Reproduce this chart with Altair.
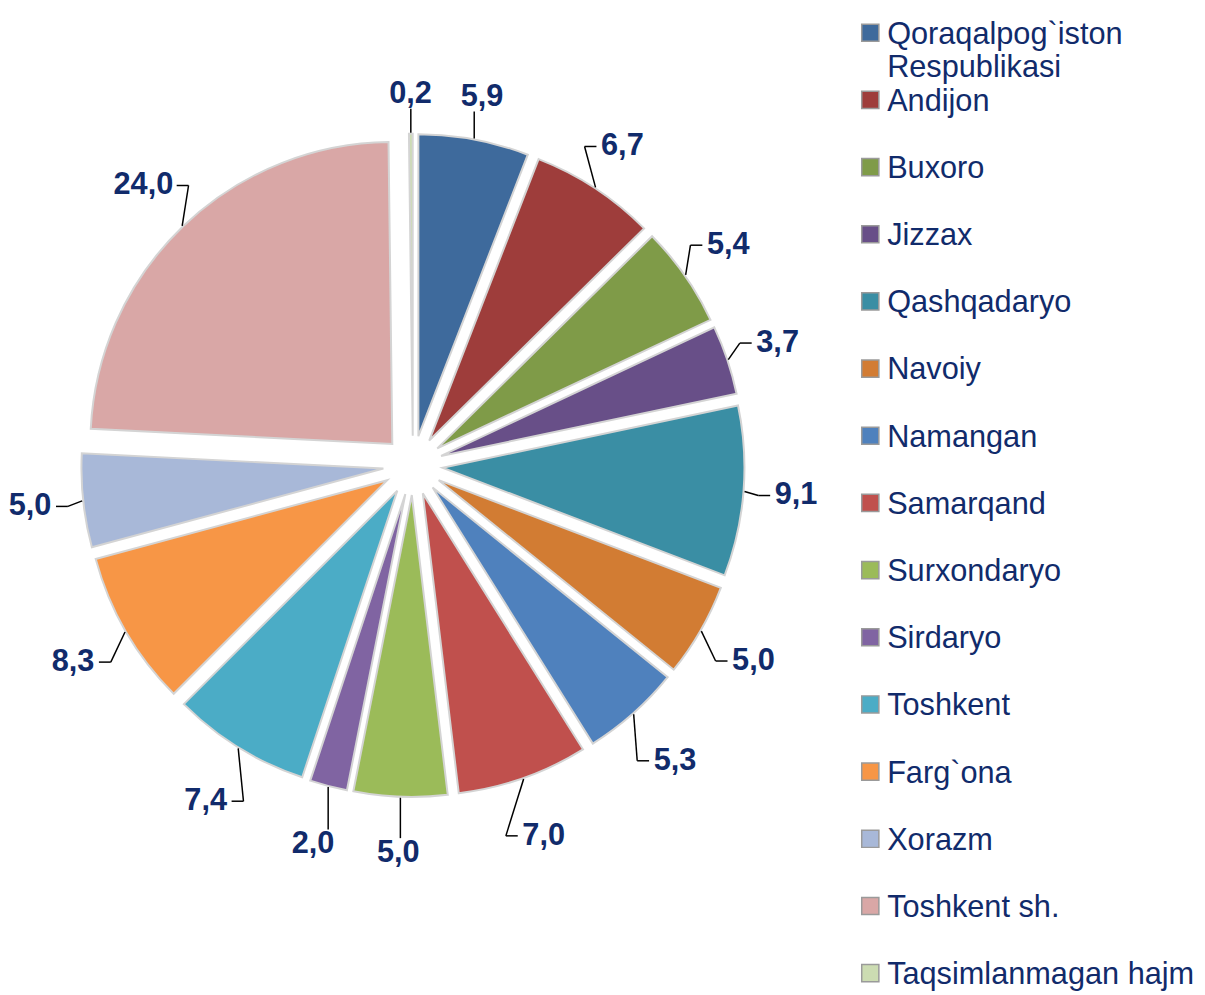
import altair as alt
import pandas as pd

regions = [
    "Qoraqalpog`iston Respublikasi", "Andijon", "Buxoro", "Jizzax", "Qashqadaryo",
    "Navoiy", "Namangan", "Samarqand", "Surxondaryo", "Sirdaryo", "Toshkent",
    "Farg`ona", "Xorazm", "Toshkent sh.", "Taqsimlanmagan hajm",
]
shares = [5.9, 6.7, 5.4, 3.7, 9.1, 5.0, 5.3, 7.0, 5.0, 2.0, 7.4, 8.3, 5.0, 24.0, 0.2]
colors = [
    "#3E6A9C", "#9E3D3B", "#7F9B48", "#684F88", "#3A8EA4", "#D27C33", "#4F81BD",
    "#C0504D", "#9BBB59", "#8064A2", "#4BACC6", "#F79646", "#A8B8D8", "#D9A7A6", "#CCDCB2",
]

df = pd.DataFrame({"region": regions, "share": shares, "order": list(range(len(regions)))})

# layout constants (pixels within the plot area)
CX, CY = 397, 457      # pie centre
R = 305                # slice radius
D = 30                 # explode distance
RB = 364               # label box inner radius
BB = 16                # extra label distance below the pie
HH = 11                # label half height
CW = 7.4               # half width per label character
LEG_X, LEG_Y0, LEG_DY = 859, 20, 67.85
NAVY = "#112B6B"
FONT = "Liberation Sans"

base = (
    alt.Chart(df)
    .transform_window(cum="sum(share)", sort=[alt.SortField("order")], frame=[None, 0])
    .transform_joinaggregate(total="sum(share)")
    .transform_calculate(
        a0="2*PI*(datum.cum - datum.share)/datum.total",
        a1="2*PI*datum.cum/datum.total",
        lbl="replace(format(datum.share, '.1f'), '.', ',')",
    )
    .transform_calculate(
        mid="(datum.a0 + datum.a1)/2",
        hw=f"{CW}*length(datum.lbl)",
    )
    .transform_calculate(
        sn="sin(datum.mid)",
        cs="cos(datum.mid)",
        sg="sin(datum.mid) >= 0 ? 1 : -1",
    )
    .transform_calculate(
        rl=f"{RB} + datum.hw*abs(datum.sn) + {HH}*abs(datum.cs) + {BB}*max(0, -datum.cs)",
        side="abs(datum.sn) >= 0.3",
    )
    .transform_calculate(
        ox=f"{CX} + {D}*datum.sn",
        oy=f"{CY} - {D}*datum.cs",
        px=f"{CX} + {R + D + 1}*datum.sn",
        py=f"{CY} - {R + D + 1}*datum.cs",
        tx=f"{CX} + datum.rl*datum.sn",
        ty=f"{CY} - datum.rl*datum.cs",
        legy=f"{LEG_Y0} + {LEG_DY}*datum.order",
        legtxt="replace(datum.region, ' Respublikasi', '\\nRespublikasi')",
    )
    .transform_calculate(
        ex="datum.side ? datum.tx - datum.sg*(datum.hw + 16) : datum.px",
        ey=f"datum.side ? datum.ty : datum.ty + (datum.cs > 0 ? 1 : -1)*({HH} + 4)",
        fx="datum.side ? datum.tx - datum.sg*(datum.hw + 4) : datum.px",
    )
)

color = alt.Color("region:N", scale=alt.Scale(domain=regions, range=colors), legend=None)

arcs = base.mark_arc(radius=R, stroke="#D4D4D4", strokeWidth=2).encode(
    x=alt.X("ox:Q", scale=None),
    y=alt.Y("oy:Q", scale=None),
    theta=alt.Theta("a0:Q", scale=None, stack=None),
    theta2=alt.Theta2("a1:Q"),
    color=color,
)

leaders = base.mark_rule(color="#000000", strokeWidth=1.5).encode(
    x=alt.X("px:Q", scale=None),
    y=alt.Y("py:Q", scale=None),
    x2=alt.X2("ex:Q"),
    y2=alt.Y2("ey:Q"),
)

stubs = base.mark_rule(color="#000000", strokeWidth=1.5).encode(
    x=alt.X("ex:Q", scale=None),
    y=alt.Y("ey:Q", scale=None),
    x2=alt.X2("fx:Q"),
    y2=alt.Y2("ey:Q"),
)

labels = base.mark_text(
    font=FONT, fontSize=31, fontWeight="bold", color=NAVY, align="center", baseline="middle"
).encode(
    x=alt.X("tx:Q", scale=None),
    y=alt.Y("ty:Q", scale=None),
    text="lbl:N",
)

leg_sq = base.mark_square(size=300, stroke="#9A9A9A", strokeWidth=1.5, opacity=1).encode(
    x=alt.value(LEG_X),
    y=alt.Y("legy:Q", scale=None),
    color=color,
)

leg_txt = base.mark_text(
    font=FONT, fontSize=31, color=NAVY, align="left", baseline="alphabetic",
    dy=11, lineBreak="\n", lineHeight=34,
).encode(
    x=alt.value(LEG_X + 17),
    y=alt.Y("legy:Q", scale=None),
    text="legtxt:N",
)

chart = (
    alt.layer(arcs, leaders, stubs, labels, leg_sq, leg_txt)
    .properties(width=1189, height=979, padding=0)
    .configure_view(strokeWidth=0)
)

chart.save("out.html", embed_options={"renderer": "svg", "actions": False})
